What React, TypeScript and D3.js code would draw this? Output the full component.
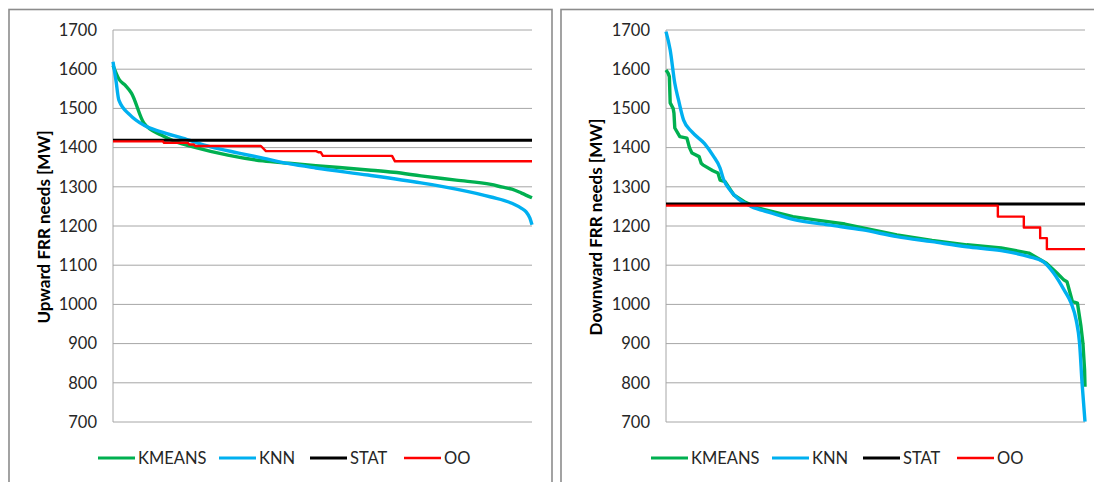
import React from "react";
import * as d3 from "d3";

// Duration curves of FRR needs: x is the share of hours (%) sorted from highest to lowest need.
const yTicks = [700, 800, 900, 1000, 1100, 1200, 1300, 1400, 1500, 1600, 1700];
const seriesNames = ["KMEANS", "KNN", "STAT", "OO"];
const seriesColors = ["#00b050", "#00b0f0", "#000000", "#ff0000"];

// Upward panel
const upKmeans: [number, number][] = [
  [0, 1610], [1.4, 1575], [3.0, 1558], [4.4, 1539], [7.4, 1462], [11.5, 1432], [15, 1415], [19.1, 1402],
  [27.4, 1381], [35.8, 1366], [42, 1360], [48.4, 1354], [60.9, 1343], [67, 1337], [73.5, 1328],
  [81.9, 1317], [90.2, 1306], [93, 1299], [95.2, 1294], [97.5, 1284], [100, 1272],
];
const upKnn: [number, number][] = [
  [0, 1619], [0.7, 1572], [1.4, 1521], [4.1, 1483], [7.4, 1457], [11.5, 1440], [16.6, 1424],
  [23.3, 1402], [30, 1386], [35.8, 1373], [42, 1359], [48.4, 1348], [60.9, 1330], [73.5, 1310],
  [81.9, 1294], [90.2, 1274], [95.2, 1258], [97.5, 1245], [98.6, 1236], [99.5, 1220], [100, 1203],
];
const upStat: [number, number][] = [[0, 1418.5], [100, 1418.5]];
const upOo: [number, number][] = [
  [0, 1416], [11.9, 1416], [12.2, 1412], [17.9, 1412], [18.2, 1408], [19.3, 1408], [19.6, 1404],
  [35.3, 1404], [36.5, 1391], [48.5, 1391], [49.0, 1388], [49.6, 1388], [50.1, 1379], [66.6, 1379],
  [67.3, 1365], [100, 1365],
];

// Downward panel
const downKmeans: [number, number][] = [
  [0, 1598], [0.5, 1590], [0.8, 1581], [1.0, 1514], [1.7, 1500], [1.9, 1488], [2.1, 1450],
  [3.3, 1428], [5.0, 1424], [5.6, 1400], [6.2, 1386], [7.9, 1377], [8.4, 1360], [8.8, 1356],
  [11.2, 1341], [12.4, 1335], [12.9, 1317], [14.1, 1313], [16.2, 1279], [18.7, 1262],
  [22.0, 1246], [30.3, 1224], [36, 1215], [42.7, 1205], [55.1, 1177], [63.5, 1163],
  [71.8, 1152], [80.0, 1144], [86.6, 1131], [90.8, 1105], [93.3, 1080], [95.0, 1062],
  [95.7, 1058], [97.0, 1007], [98.2, 1003], [99.0, 947], [99.5, 901], [99.9, 833], [100, 790],
];
const downKnn: [number, number][] = [
  [0, 1696], [1.0, 1649], [2.1, 1564], [3.0, 1521], [4.2, 1470], [6.2, 1440], [9.2, 1410],
  [11.2, 1380], [12.9, 1348], [13.7, 1320], [15.4, 1290], [17.4, 1268], [20.3, 1250],
  [25.3, 1233], [30.3, 1217], [38.7, 1203], [47.0, 1190], [55.1, 1173], [63.5, 1160],
  [71.8, 1147], [80.0, 1137], [86.6, 1122], [90.0, 1109], [92.5, 1080], [95.0, 1037],
  [96.7, 1003], [97.9, 960], [98.7, 901], [99.3, 799], [100, 701],
];
const downStat: [number, number][] = [[0, 1256], [100, 1256]];
const downOo: [number, number][] = [
  [0, 1252], [79.2, 1252], [79.2, 1224], [85.4, 1224], [85.4, 1196], [89.3, 1196],
  [89.3, 1169], [90.9, 1169], [90.9, 1141], [100, 1141],
];

const FONT = "Lato, 'Open Sans', sans-serif";
const lineWidths = [3.4, 3.4, 3, 2.4];
const legendWidths = [3.2, 3.2, 3, 2.4];

type PanelProps = {
  left: number;
  width: number;
  plotX0: number;
  plotX1: number;
  title: string;
  titleX: number;
  series: [number, number][][];
  smooth: boolean[];
};

function Panel({ left, width, plotX0, plotX1, title, titleX, series, smooth }: PanelProps) {
  const y0 = 30;
  const y1 = 422;
  const x = d3.scaleLinear().domain([0, 100]).range([plotX0, plotX1]);
  const y = d3.scaleLinear().domain([700, 1700]).range([y1, y0]);
  const makeLine = (curved: boolean) =>
    d3
      .line<[number, number]>()
      .x((d) => x(d[0]))
      .y((d) => y(d[1]))
      .curve(curved ? d3.curveMonotoneX : d3.curveLinear);

  const legendOffsets = [0, 121, 212, 306];
  const legendStart = plotX0 - 15;

  return (
    <g>
      <rect x={left} y={9.5} width={width} height={520} fill="#fff" stroke="#8c8c8c" strokeWidth={1.6} />
      {yTicks.map((t) => (
        <line key={t} x1={plotX0} x2={plotX1} y1={y(t)} y2={y(t)} stroke="#a6a6a6" strokeWidth={1} />
      ))}
      <line x1={plotX0} x2={plotX0} y1={y0} y2={y1} stroke="#a6a6a6" strokeWidth={1} />
      {yTicks.map((t) => (
        <text key={t} x={plotX0 - 16} y={y(t)} dy="0.35em" textAnchor="end" fontSize={16.5} fill="#262626" fontFamily={FONT}>
          {t}
        </text>
      ))}
      <text
        transform={`translate(${titleX},${(y0 + y1) / 2 + 1}) rotate(-90)`}
        textAnchor="middle"
        dy="0.35em"
        fontSize={17}
        fontWeight="bold"
        fill="#000"
        fontFamily={FONT}
      >
        {title}
      </text>
      {series.map((s, i) => (
        <path
          key={i}
          d={makeLine(smooth[i])(s) ?? ""}
          fill="none"
          stroke={seriesColors[i]}
          strokeWidth={lineWidths[i]}
          strokeLinejoin="round"
        />
      ))}
      {seriesNames.map((n, i) => {
        const lx = legendStart + legendOffsets[i];
        return (
          <g key={n}>
            <line x1={lx} x2={lx + 37} y1={458} y2={458} stroke={seriesColors[i]} strokeWidth={legendWidths[i]} />
            <text x={lx + 40} y={458} dy="0.35em" fontSize={16.5} fill="#262626" fontFamily={FONT}>
              {n}
            </text>
          </g>
        );
      })}
    </g>
  );
}

export default function App() {
  return (
    <svg width={1094} height={482} style={{ position: "absolute", left: 0, top: 0, background: "#fff" }}>
      <Panel
        left={9}
        width={543}
        plotX0={113}
        plotX1={532}
        title="Upward FRR needs [MW]"
        titleX={44}
        series={[upKmeans, upKnn, upStat, upOo]}
        smooth={[true, true, false, false]}
      />
      <Panel
        left={561}
        width={560}
        plotX0={666}
        plotX1={1085}
        title="Downward FRR needs [MW]"
        titleX={596}
        series={[downKmeans, downKnn, downStat, downOo]}
        smooth={[false, true, false, false]}
      />
    </svg>
  );
}
